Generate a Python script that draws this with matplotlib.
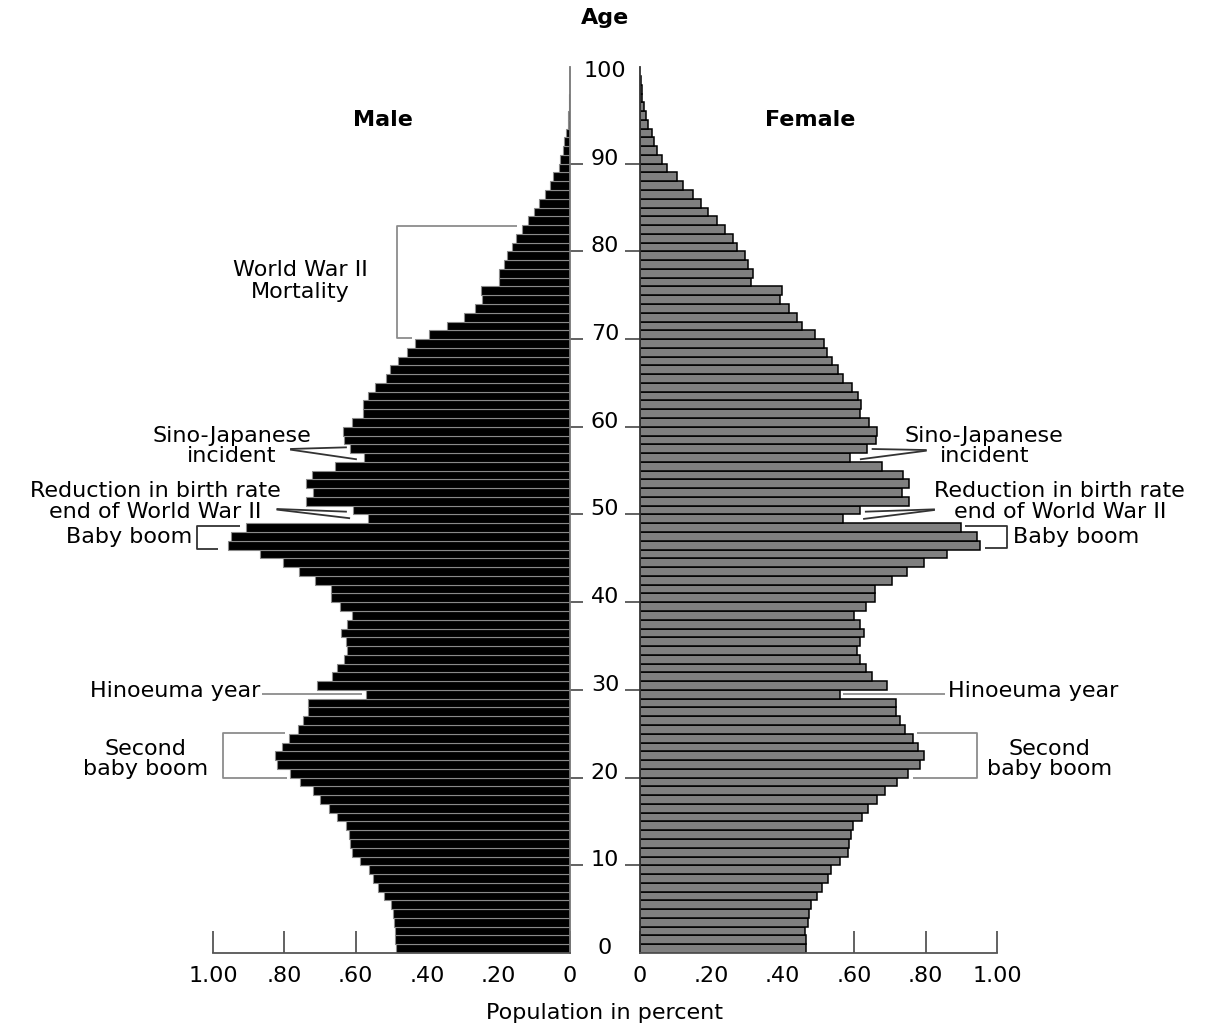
import matplotlib
matplotlib.use("Agg")
import matplotlib.pyplot as plt
import matplotlib.transforms as mtransforms
import numpy as np

plt.rcParams['font.family'] = ['DejaVu Sans']

# ---------------- data (percent of population, single years of age 0..99) ----------------
ages = list(range(0, 100))

male = [0.487, 0.490, 0.490, 0.493, 0.495, 0.502, 0.521, 0.537, 0.551, 0.563,
        0.588, 0.612, 0.616, 0.618, 0.628, 0.654, 0.675, 0.700, 0.719, 0.756,
        0.784, 0.822, 0.826, 0.808, 0.787, 0.761, 0.749, 0.735, 0.735, 0.572,
        0.710, 0.666, 0.654, 0.633, 0.624, 0.628, 0.641, 0.624, 0.610, 0.644,
        0.670, 0.670, 0.714, 0.758, 0.805, 0.868, 0.959, 0.950, 0.908, 0.567,
        0.607, 0.739, 0.719, 0.739, 0.722, 0.658, 0.576, 0.616, 0.633, 0.637,
        0.612, 0.581, 0.581, 0.567, 0.546, 0.515, 0.504, 0.481, 0.456, 0.434,
        0.396, 0.344, 0.297, 0.266, 0.246, 0.250, 0.198, 0.198, 0.185, 0.176,
        0.162, 0.151, 0.134, 0.117, 0.100, 0.087, 0.070, 0.056, 0.049, 0.031,
        0.028, 0.021, 0.016, 0.011, 0.007, 0.005, 0.003, 0.002, 0.001, 0.0005]

female = [0.465, 0.465, 0.462, 0.470, 0.472, 0.479, 0.495, 0.509, 0.528, 0.534,
          0.560, 0.584, 0.586, 0.591, 0.596, 0.621, 0.640, 0.665, 0.686, 0.719,
          0.750, 0.784, 0.796, 0.780, 0.764, 0.742, 0.728, 0.716, 0.716, 0.560,
          0.693, 0.651, 0.633, 0.616, 0.607, 0.616, 0.628, 0.616, 0.599, 0.633,
          0.658, 0.658, 0.705, 0.749, 0.796, 0.861, 0.952, 0.943, 0.899, 0.568,
          0.616, 0.753, 0.733, 0.753, 0.736, 0.677, 0.588, 0.637, 0.660, 0.663,
          0.641, 0.616, 0.619, 0.612, 0.593, 0.568, 0.556, 0.539, 0.525, 0.516,
          0.491, 0.453, 0.440, 0.418, 0.392, 0.397, 0.312, 0.316, 0.302, 0.294,
          0.273, 0.260, 0.237, 0.217, 0.191, 0.170, 0.148, 0.121, 0.105, 0.075,
          0.063, 0.049, 0.040, 0.033, 0.023, 0.016, 0.011, 0.007, 0.005, 0.002]

age_labels = [0, 10, 20, 30, 40, 50, 60, 70, 80, 90, 100]
age_tick_marks = [10, 20, 30, 40, 50, 60, 70, 80, 90]
male_xticks = [1.0, 0.8, 0.6, 0.4, 0.2, 0.0]
male_xlabels = ["1.00", ".80", ".60", ".40", ".20", "0"]
female_xticks = [0.0, 0.2, 0.4, 0.6, 0.8, 1.0]
female_xlabels = ["0", ".20", ".40", ".60", ".80", "1.00"]

# ---------------- figure ----------------
W, H = 1207, 1027
fig = plt.figure(figsize=(W / 100, H / 100), dpi=100)
fig.patch.set_facecolor('white')

bottom = (H - 953) / H
height = (953 - 66.7) / H
ax_m = fig.add_axes([213 / W, bottom, 357 / W, height])
ax_f = fig.add_axes([640 / W, bottom, 357 / W, height])

FS = 16
AX_COL = '#555555'

ax_m.barh(ages, male, height=1.0, align='edge', color='black',
          edgecolor='#8a8a8a', linewidth=0.8, zorder=2)
ax_f.barh(ages, female, height=1.0, align='edge', color='#808080',
          edgecolor='black', linewidth=1.1, zorder=2)

ymax = 101.06
ax_m.set_xlim(1.0, 0.0)
ax_f.set_xlim(0.0, 1.0)
for ax in (ax_m, ax_f):
    ax.set_ylim(0, ymax)
    ax.set_facecolor('none')
    ax.set_axisbelow(True)
    ax.spines['top'].set_visible(False)
    ax.spines['bottom'].set_color(AX_COL)
    ax.spines['bottom'].set_linewidth(1.3)
    ax.set_yticks(age_tick_marks)
    ax.set_yticklabels([])

ax_m.spines['left'].set_visible(False)
ax_m.spines['right'].set_color('#777777')
ax_m.spines['right'].set_linewidth(1.3)
ax_m.yaxis.tick_right()
ax_m.tick_params(axis='y', direction='out', length=9.5, width=1.3, color=AX_COL)

ax_f.spines['right'].set_visible(False)
ax_f.spines['left'].set_color('#333333')
ax_f.spines['left'].set_linewidth(1.3)
ax_f.yaxis.tick_left()
ax_f.tick_params(axis='y', direction='out', length=10.8, width=1.3, color=AX_COL)

ax_m.set_xticks(male_xticks)
ax_m.set_xticklabels(male_xlabels)
ax_f.set_xticks(female_xticks)
ax_f.set_xticklabels(female_xlabels)
for ax in (ax_m, ax_f):
    ax.tick_params(axis='x', direction='in', length=15.8, width=1.3,
                   color=AX_COL, labelsize=FS, pad=9)

# age labels in the centre column
tr = mtransforms.blended_transform_factory(fig.transFigure, ax_f.transData)
for a in age_labels:
    ax_f.text(605 / W, a + 0.57, str(a), transform=tr, ha='center', va='center',
              fontsize=FS, clip_on=False)

# titles
fig.text(605 / W, 1 - 18 / H, "Age", ha='center', va='center', fontsize=FS, fontweight='bold')
fig.text(383 / W, 1 - 120 / H, "Male", ha='center', va='center', fontsize=FS, fontweight='bold')
fig.text(810 / W, 1 - 120 / H, "Female", ha='center', va='center', fontsize=FS, fontweight='bold')
fig.text(605 / W, 1 - 1013 / H, "Population in percent", ha='center', va='center', fontsize=FS)

GRAY = '#8c8c8c'
DARK = '#333333'
LW = 1.3


def line(ax, xs, ys, col):
    ax.plot(xs, ys, color=col, lw=LW, clip_on=False, zorder=3, solid_capstyle='butt')


# ---------------- male annotations ----------------
ax_m.text(0.756, 76.6, "World War II\nMortality", ha='center', va='center', fontsize=FS,
          linespacing=1.15)
line(ax_m, [0.148, 0.485, 0.485, 0.443], [82.93, 82.93, 70.09, 70.09], GRAY)

ax_m.text(0.947, 57.81, "Sino-Japanese\nincident", ha='center', va='center', fontsize=FS,
          linespacing=1.05)
line(ax_m, [0.784, 0.625], [57.47, 57.66], DARK)
line(ax_m, [0.784, 0.597], [57.40, 56.29], DARK)

ax_m.text(1.162, 51.48, "Reduction in birth rate\nend of World War II", ha='center',
          va='center', fontsize=FS, linespacing=1.05)
line(ax_m, [0.822, 0.625], [50.63, 50.32], DARK)
line(ax_m, [0.822, 0.616], [50.56, 49.57], DARK)

ax_m.text(1.059, 47.43, "Baby boom", ha='right', va='center', fontsize=FS)
line(ax_m, [0.924, 1.045, 1.045, 0.985], [48.69, 48.69, 46.12, 46.12], DARK)

ax_m.text(0.868, 29.87, "Hinoeuma year", ha='right', va='center', fontsize=FS)
line(ax_m, [0.863, 0.583], [29.53, 29.53], GRAY)

ax_m.text(1.190, 22.12, "Second\nbaby boom", ha='center', va='center', fontsize=FS,
          linespacing=1.05)
line(ax_m, [0.798, 0.971, 0.971, 0.793], [25.05, 25.05, 19.99, 19.99], GRAY)

# ---------------- female annotations ----------------
ax_f.text(0.964, 57.81, "Sino-Japanese\nincident", ha='center', va='center', fontsize=FS,
          linespacing=1.05)
line(ax_f, [0.803, 0.649], [57.35, 57.47], DARK)
line(ax_f, [0.803, 0.616], [57.28, 56.29], DARK)

ax_f.text(1.176, 51.48, "Reduction in birth rate\nend of World War II", ha='center',
          va='center', fontsize=FS, linespacing=1.05)
line(ax_f, [0.826, 0.630], [50.59, 50.32], DARK)
line(ax_f, [0.826, 0.625], [50.52, 49.49], DARK)

ax_f.text(1.045, 47.43, "Baby boom", ha='left', va='center', fontsize=FS)
line(ax_f, [0.910, 1.027, 1.027, 0.966], [48.72, 48.72, 46.21, 46.21], DARK)

ax_f.text(0.863, 29.87, "Hinoeuma year", ha='left', va='center', fontsize=FS)
line(ax_f, [0.569, 0.854], [29.53, 29.53], GRAY)

ax_f.text(1.148, 22.12, "Second\nbaby boom", ha='center', va='center', fontsize=FS,
          linespacing=1.05)
line(ax_f, [0.775, 0.943, 0.943, 0.766], [25.05, 25.05, 19.99, 19.99], GRAY)

fig.savefig("out.png", dpi=100, facecolor='white')
